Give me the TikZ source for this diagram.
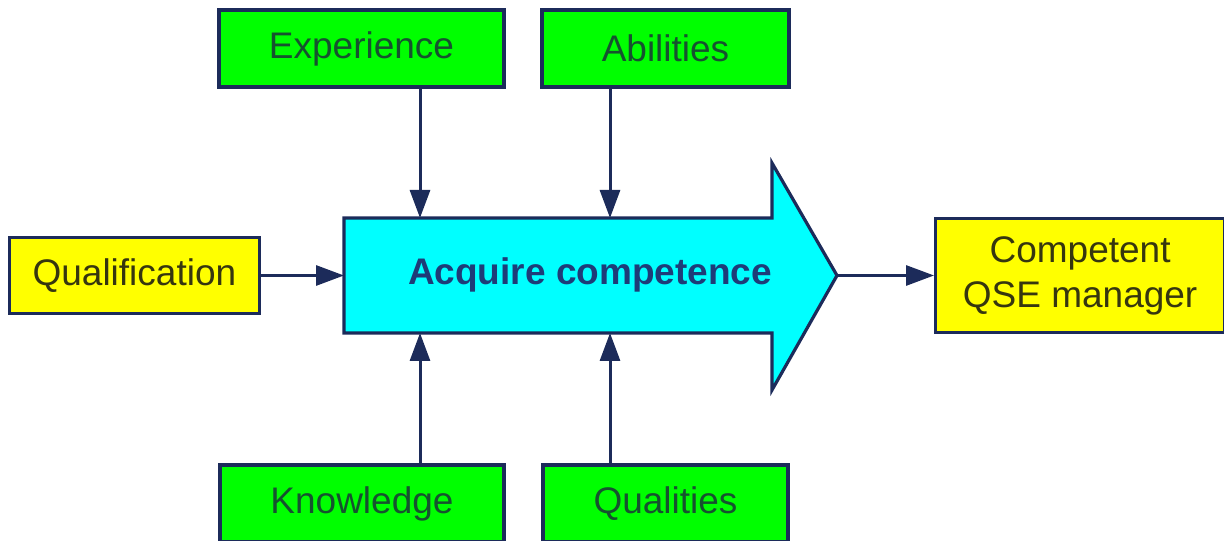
\documentclass[tikz,border=0pt]{standalone}
\usepackage{fontspec}
\setmainfont{Liberation Sans}
\usetikzlibrary{arrows.meta,positioning}
\definecolor{qsenavy}{HTML}{1C2B5A}
\definecolor{qsegreen}{HTML}{00FF00}
\definecolor{qseyellow}{HTML}{FFFF00}
\definecolor{qsecyan}{HTML}{00FFFF}
\definecolor{qsegrntxt}{HTML}{16522F}
\definecolor{qseylwtxt}{HTML}{36360F}
\definecolor{qseacqtxt}{HTML}{1E3C78}
\newcommand{\qsefont}{\fontsize{18.5}{22.5}\selectfont}
\tikzset{
  bx/.style={draw=qsenavy, line width=1.6pt, align=center, font=\qsefont, inner sep=2pt},
  grn/.style={bx, fill=qsegreen, text=qsegrntxt, minimum height=38.5pt},
  ylw/.style={bx, fill=qseyellow, text=qseylwtxt},
  body/.style={minimum width=214pt, minimum height=57.5pt, inner sep=0pt, outer sep=0pt},
  bigarr/.style={draw=qsenavy, fill=qsecyan, line width=1.6pt, line join=miter},
  arr/.style={-{Triangle[length=14pt, width=10pt]}, line width=1.5pt, color=qsenavy},
}

\begin{document}
\begin{tikzpicture}[x=0.5pt, y=0.5pt, font=\qsefont]
  \useasboundingbox (0,0) rectangle (1224,540);
  % the big arrow in the middle
  \node[body] (acq) at (558,264.5) {};
  \coordinate (tip) at ([xshift=32.5pt]acq.east);
  \draw[bigarr] (acq.north west) -- (acq.north east) -- ++(0,55) -- (tip)
    -- ([yshift=-28.5pt]acq.south east) -- (acq.south east) -- (acq.south west) -- cycle;
  \node[font=\qsefont\bfseries, text=qseacqtxt] (acqlbl) at (590,265) {Acquire competence};
  % inputs
  \node[grn, minimum width=142.5pt] (exp) at (361.5,491.5) {Experience};
  \node[grn, minimum width=123.5pt] (abil) at (665.5,491.5) {Abilities};
  \node[grn, minimum width=142pt] (know) at (362,36.5) {Knowledge};
  \node[grn, minimum width=122.5pt] (qlty) at (665.5,36.5) {Qualities};
  \node[ylw, minimum width=125pt, minimum height=38pt, left=41.5pt of acq] (qual) {Qualification};
  \node[ylw, minimum width=144.5pt, minimum height=57pt, right=81pt of acq] (comp) {Competent\\QSE manager};
  \coordinate (inE) at ([xshift=38pt]acq.north west);
  \coordinate (inA) at ([xshift=133pt]acq.north west);
  \coordinate (inK) at ([xshift=38pt]acq.south west);
  \coordinate (inQ) at ([xshift=133pt]acq.south west);
  \draw[arr] (exp.south -| inE) -- (inE); \draw[arr] (abil.south -| inA) -- (inA);
  \draw[arr] (know.north -| inK) -- (inK); \draw[arr] (qlty.north -| inQ) -- (inQ);
  \draw[arr] (qual) -- (acq); \draw[arr] (tip) -- (comp);
\end{tikzpicture}
\end{document}
